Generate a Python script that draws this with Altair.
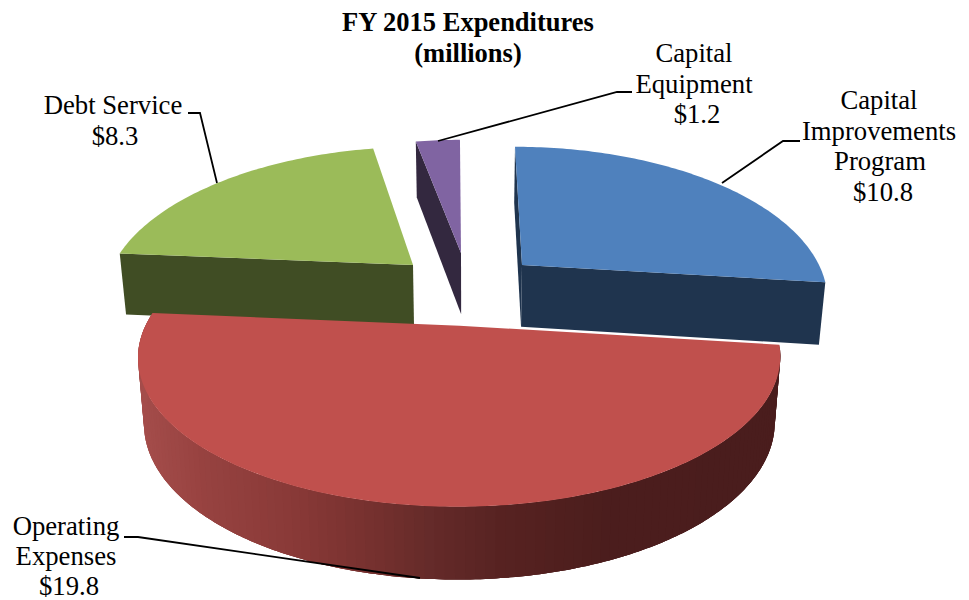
import math
import altair as alt

# ---- data ----
categories = ["Capital Improvements Program", "Operating Expenses", "Debt Service", "Capital Equipment"]
values = [10.8, 19.8, 8.3, 1.2]
label_values = ["$10.8", "$19.8", "$8.3", "$1.2"]
title_lines = ["FY 2015 Expenditures", "(millions)"]

top_colors = ["#4F81BD", "#C0504D", "#9BBB59", "#8064A2"]
side_colors = ["#1F344E", None, "#404D24", "#33283F"]

# ---- 3-D pie geometry ----
START = 0.5      # rotation of first slice, degrees
K = 0.21         # perspective of the disc
VP = 470.0       # vanishing column
S = 0.982        # shrink of the bottom face
# centre x, centre y, radius x, radius y, rotation tweak
centres = [(522.0, 265.0, 297.0, 143.0, -0.7), (459.5, 325.7, 314.0, 143.0, 0.0),
           (413.0, 265.0, 300.0, 143.0, -0.5), (461.0, 253.0, 285.0, 137.0, -1.0)]


def top_pt(i, deg, r=1.0):
    cx, cy, a, b, tweak = centres[i]
    t = math.radians(deg + tweak)
    w = 1 + K * math.cos(t)
    x = cx + a * r * math.sin(t) / w
    y = cy - b * r * math.cos(t) / w
    x += (cx - VP) * (y - cy) * 0.001
    return (x, y)


def lower(p):
    x, y = p
    return (VP + (x - VP) * S, y + 56 + (y - 141) * 0.046)


def poly(points, fill):
    pts = [[round(x, 2), round(y, 2)] for x, y in points]
    pts.append(pts[0])
    return {"type": "Feature", "properties": {"fill": fill},
            "geometry": {"type": "Polygon", "coordinates": [pts]}}


def wedge(i, a0, a1):
    n = max(4, int((a1 - a0) / 1.0))
    arc = [top_pt(i, a0 + (a1 - a0) * j / n) for j in range(n + 1)]
    return [top_pt(i, a0, 0.0)] + arc


def side_rgb(x):
    stops = [(130, (167, 79, 77)), (200, (152, 67, 65)), (300, (136, 57, 55)), (380, (116, 48, 46)),
             (430, (101, 43, 42)), (500, (88, 35, 34)), (600, (76, 30, 29)), (790, (74, 29, 29))]
    for (x0, c0), (x1, c1) in zip(stops, stops[1:]):
        if x <= x1:
            f = max(0.0, (x - x0) / (x1 - x0))
            return "#%02x%02x%02x" % tuple(int(c0[k] + (c1[k] - c0[k]) * f) for k in range(3))
    return "#4a1d1d"


total = sum(values)
angles = []
acc = START
for v in values:
    sweep = v / total * 360
    angles.append((acc, acc + sweep))
    acc += sweep

features = []
order = [2, 3, 1, 0]
for i in order:
    a0, a1 = angles[i]
    if i == 1:
        n = 120
        step = (a1 - a0) / n
        for j in range(n):
            d0 = a0 + step * j
            # each strip runs on under the next one, so no seams show
            mids = [d0 + step * m / 2 for m in range(7)]
            mids = [d for d in mids if d <= a1 + 1e-6]
            upper = [top_pt(i, d) for d in mids]
            f = poly(upper + [lower(p) for p in reversed(upper)],
                     side_rgb(top_pt(i, d0 + step / 2)[0]))
            features.append(f)
    else:
        cut = a1 if i == 0 else a0
        c = top_pt(i, cut, 0.0)
        o = top_pt(i, cut)
        features.append(poly([c, o, lower(o), lower(c)], side_colors[i]))
        if i == 0:
            o2 = top_pt(i, a0)
            c2 = top_pt(i, a0, 0.0)
            features.append(poly([c2, o2, lower(o2), lower(c2)], side_colors[i]))
    features.append(poly(wedge(i, a0, a1), top_colors[i]))

leader_paths = [
    [[438, 141], [617, 92], [632, 92]],
    [[722, 183], [783, 141], [800, 141]],
    [[217, 183], [200, 113], [188, 113]],
    [[124, 537], [138, 537], [420, 578]],
]
leaders = [{"type": "Feature", "properties": {},
            "geometry": {"type": "LineString", "coordinates": p}} for p in leader_paths]

labels = [
    (title_lines[0], 468, 23, "bold"), (title_lines[1], 468, 54, "bold"),
    ("Capital", 694, 54, "normal"), ("Equipment", 694, 85, "normal"), (label_values[3], 697, 115, "normal"),
    ("Capital", 879, 101, "normal"), ("Improvements", 879, 132, "normal"), ("Program", 880, 162, "normal"),
    (label_values[0], 883, 193, "normal"),
    ("Debt Service", 113, 106, "normal"), (label_values[2], 115, 137, "normal"),
    ("Operating", 66, 527, "normal"), ("Expenses", 66, 557, "normal"), (label_values[1], 69, 587, "normal"),
]
rows = [{"t": t, "lon": x, "lat": y} for t, x, y, w in labels if w == "normal"]
bold_rows = [{"t": t, "lon": x, "lat": y} for t, x, y, w in labels if w == "bold"]

proj = dict(type="identity", scale=1, translate=[-8, -8])

shapes = alt.Chart(alt.Data(values=features)).mark_geoshape(strokeWidth=0).encode(
    fill=alt.Color("properties.fill:N", scale=None),
).project(**proj)

lines = alt.Chart(alt.Data(values=leaders)).mark_geoshape(filled=False, stroke="black", strokeWidth=1.8).project(**proj)

text = alt.Chart(alt.Data(values=rows)).mark_text(
    font="Liberation Serif", fontSize=26.7, color="black", baseline="middle", align="center"
).encode(longitude="lon:Q", latitude="lat:Q", text="t:N").project(**proj)

bold = alt.Chart(alt.Data(values=bold_rows)).mark_text(
    font="Liberation Serif", fontSize=26.5, fontWeight="bold", color="black", baseline="middle", align="center"
).encode(longitude="lon:Q", latitude="lat:Q", text="t:N").project(**proj)

chart = alt.layer(shapes, lines, text, bold).properties(
    width=953, height=592, padding=0, autosize=alt.AutoSizeParams(type="none")
).configure_view(stroke=None).configure(background="white")

chart.save("out.html", embed_options={"renderer": "svg", "actions": False})
